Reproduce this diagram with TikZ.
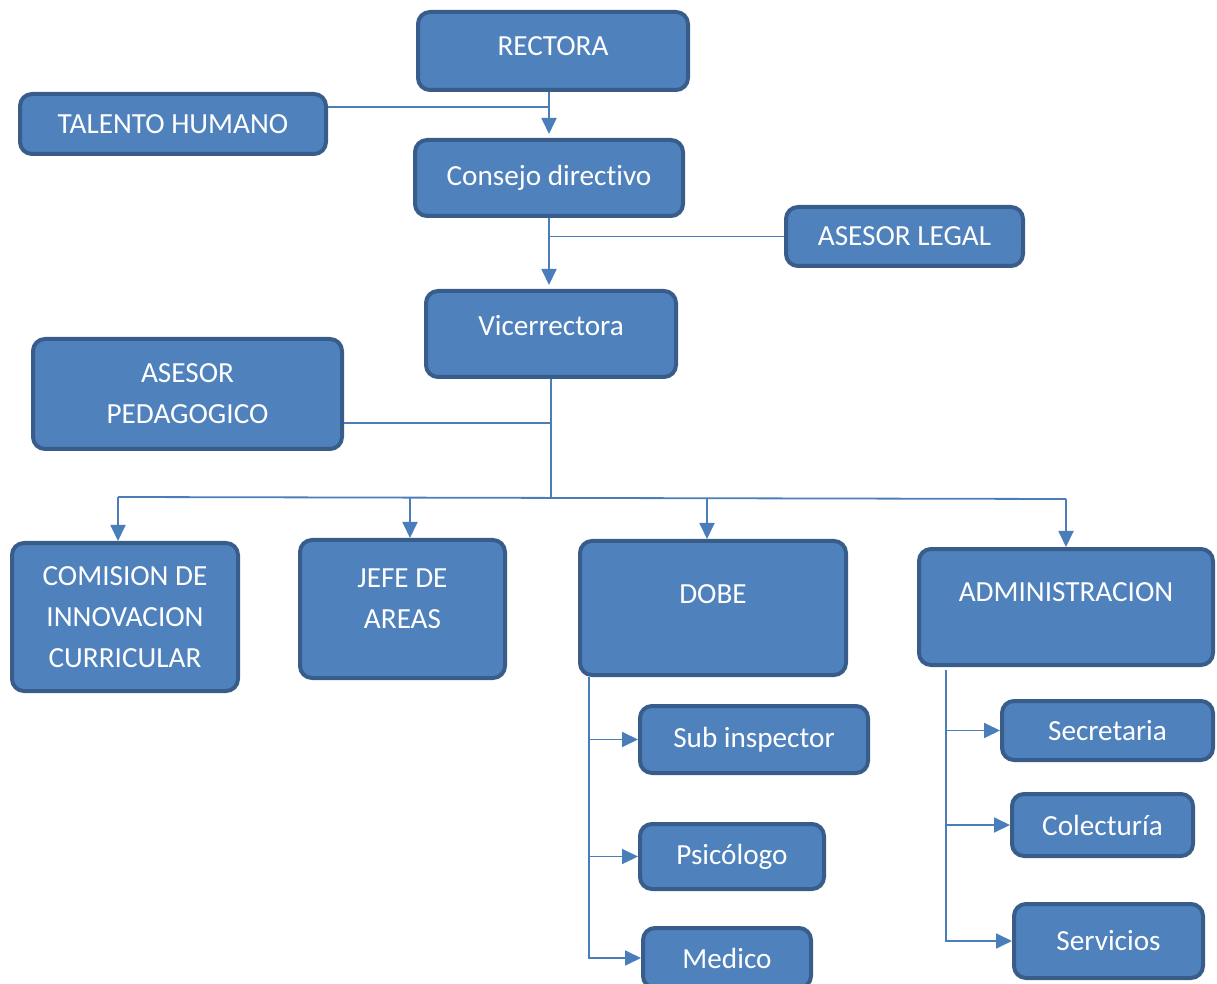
\documentclass[tikz,border=0pt]{standalone}
\usepackage{fontspec}
\setmainfont{Carlito}[Ligatures=NoCommon]
\usetikzlibrary{arrows.meta}
\definecolor{boxfill}{HTML}{4F81BD}
\definecolor{boxline}{HTML}{385D8A}
\definecolor{wire}{HTML}{4A7EBB}

\begin{document}
\begin{tikzpicture}[x=0.5pt, y=-0.5pt,
  box/.style={draw=boxline, fill=boxfill, line width=2pt, rounded corners=6pt,
    text=white, align=center, inner sep=2pt,
    font=\fontsize{14.6}{20.5}\selectfont},
  link/.style={draw=wire, line width=0.9pt},
  flow/.style={link, -{Triangle[length=8pt, width=7.5pt]}}]
      \useasboundingbox (0,0) rectangle (1217,984);%

      % Top
      % -- Rectora
      \node [box, minimum width=135pt, minimum height=39pt, text depth=5pt]
      (R) at (553,51) {RECTORA};%
      % -- Talento humano
      \node [box, minimum width=153pt, minimum height=30pt] (TH) at (173,124)
      {TALENTO HUMANO};%
      % -- Consejo
      \node [box, minimum width=134pt, minimum height=38pt] (CD) at (549,178)
      {Consejo directivo};%
      % -- Asesor legal
      \node [box, minimum width=118.5pt, minimum height=29.5pt] (AL) at
      (904.5,236.5) {ASESOR LEGAL};%
      % -- Vicerrectora
      \node [box, minimum width=125pt, minimum height=43pt, text depth=9pt]
      (V) at (551,334) {Vicerrectora};%
      % -- Asesor pedagogico
      \node [box, minimum width=154.5pt, minimum height=55pt] (AP) at
      (187.5,394) {ASESOR\\PEDAGOGICO};%

      % Middle row
      \node [box, minimum width=113pt, minimum height=74pt] (CIC) at (125,617)
      {COMISION DE\\INNOVACION\\CURRICULAR};%
      \node [box, minimum width=102.5pt, minimum height=69pt, text depth=10pt]
      (JA) at (402.5,609) {JEFE DE\\AREAS};%
      \node [box, minimum width=133pt, minimum height=67pt, text depth=14pt]
      (DOBE) at (713,608) {DOBE};%
      \node [box, minimum width=147pt, minimum height=58pt, text depth=15pt]
      (ADM) at (1066,607) {ADMINISTRACION};%

      % DOBE
      \node [box, minimum width=114pt, minimum height=33.5pt] (SI) at
      (754,739.5) {Sub inspector};%
      \node [box, minimum width=92pt, minimum height=32.5pt] (PS) at
      (732,856.5) {Psicólogo};%
      \node [box, minimum width=84pt, minimum height=30pt] (ME) at (727,958)
      {Medico};%

      % Administracion
      \node [box, minimum width=105.5pt, minimum height=29.5pt] (SE) at
      (1107.5,730.5) {Secretaria};%
      \node [box, minimum width=90.5pt, minimum height=31pt] (CO) at
      (1102.5,825) {Colecturía};%
      \node [box, minimum width=94.5pt, minimum height=37pt] (SV) at
      (1108.5,941) {Servicios};%

      % arrows
      \draw [flow, shorten >=2pt] (R.south -| CD.north) -- (CD.north);%
      \coordinate (th) at ([yshift=8.5pt]TH.east);%
      \draw [link] (th) -- (th -| CD.north);%
      \draw [flow, shorten >=2pt] (CD.south) -- (CD.south |- V.north);%
      \draw [link] (AL.west) -- (AL.west -| CD.south);%
      % -- bus
      \coordinate (b1) at (118,497);%
      \coordinate (b2) at (410,498);%
      \coordinate (b3) at (707,498);%
      \coordinate (b4) at (1066,499);%
      \draw [link] (V.south) -- (V.south |- b1);%
      \coordinate (ap) at ([yshift=-14.5pt]AP.east);%
      \draw [link] (ap) -- (ap -| V.south);%
      \draw [link] (b1) -- (b4);%
      \draw [flow] (b1) -- (b1 |- CIC.north);%
      \draw [flow] (b2) -- (b2 |- JA.north);%
      \draw [flow] (b3) -- (b3 |- DOBE.north);%
      \draw [flow] (b4) -- (b4 |- ADM.north);%
      % -- DOBE
      \coordinate (dt) at ([xshift=5.5pt]DOBE.south west);%
      \draw [flow] (dt) |- (ME.west);%
      \draw [flow] (dt |- SI.west) -- (SI.west);%
      \draw [flow] (dt |- PS.west) -- (PS.west);%
      % -- Administracion
      \coordinate (at) at ([xshift=14.5pt, yshift=-1.5pt]ADM.south west);%
      \draw [flow] (at) |- (SV.west);%
      \draw [flow] (at |- SE.west) -- (SE.west);%
      \draw [flow] (at |- CO.west) -- (CO.west);%
    \end{tikzpicture}
\end{document}
